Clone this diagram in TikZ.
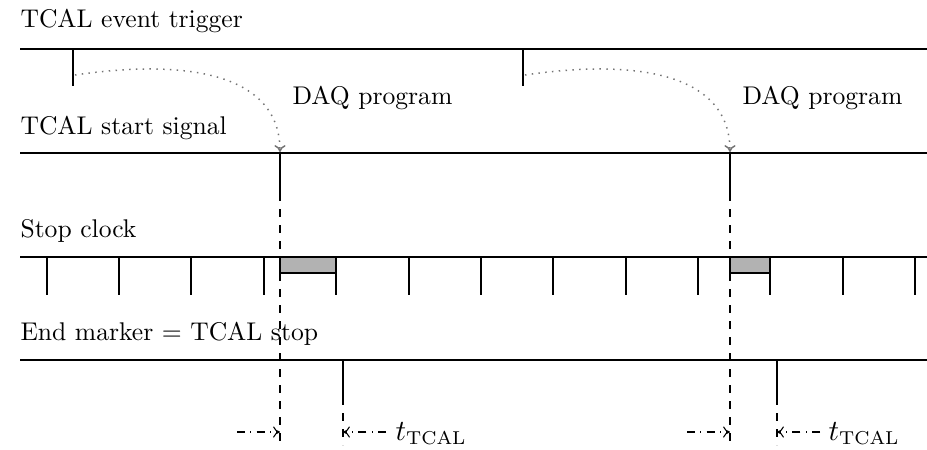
\documentclass[tikz,border=0pt]{standalone}
\usetikzlibrary{arrows.meta}
\begin{document}
\begin{tikzpicture}[x=0.375pt,y=-0.375pt,
  sigline/.style={line width=0.75pt},
  tick/.style={line width=0.75pt},
  guide/.style={dashed, line width=0.4pt},
  gate/.style={fill=black!30, draw=black, line width=0.4pt},
  flow/.style={dotted, draw=black!55, line width=0.55pt, -{To[length=2.6pt,width=4.2pt]}},
  meas/.style={dash dot, line width=0.4pt, -{To[length=2.6pt,width=4.2pt]}},
  lbl/.style={anchor=base west, inner sep=0pt, font=\fontsize{9.6}{11}\selectfont},
  tlbl/.style={anchor=base west, inner sep=0pt, font=\fontsize{10.5}{12}\selectfont}]
\useasboundingbox (0,0) rectangle (927,449);
% labels
\node[lbl] (l1) at (20,27) {TCAL event trigger};
\node[lbl] (l2) at (20,134) {TCAL start signal};
\node[lbl] (l3) at (20,237) {Stop clock};
\node[lbl] (l4) at (20,340) {End marker = TCAL stop};
\node[lbl] (d1) at (292,104) {DAQ program};
\node[lbl] (d2) at (742,104) {DAQ program};
% grey gates
\draw[gate] (280,257) rectangle (336,273);
\draw[gate] (730,257) rectangle (770,273);
% signal lines
\draw[sigline] (20,49) -- (927,49);
\draw[sigline] (20,153) -- (927,153);
\draw[sigline] (20,257) -- (927,257);
\draw[sigline] (20,360) -- (927,360);
% trigger ticks
\coordinate (tA) at (73,49); \coordinate (tAe) at (73,86);
\coordinate (tB) at (523,49); \coordinate (tBe) at (523,86);
\draw[tick] (tA) -- (tAe);
\draw[tick] (tB) -- (tBe);
% start ticks
\coordinate (sA) at (280,153); \coordinate (sAe) at (280,193);
\coordinate (sB) at (730,153); \coordinate (sBe) at (730,193);
\draw[tick] (sA) -- (sAe);
\draw[tick] (sB) -- (sBe);
% stop clock ticks
\foreach \x in {47,119,191,264,336,409,481,553,626,698,770,843,915}
  \draw[tick] (\x,257) -- (\x,295);
% end marker ticks
\coordinate (eA) at (343,360); \coordinate (eAe) at (343,397);
\coordinate (eB) at (777,360); \coordinate (eBe) at (777,397);
\draw[tick] (eA) -- (eAe);
\draw[tick] (eB) -- (eBe);
% dashed guides
\coordinate (gA) at (280,445); \coordinate (gB) at (730,445);
\coordinate (hA) at (343,445); \coordinate (hB) at (777,445);
\draw[guide] (sAe) -- (gA);
\draw[guide] (sBe) -- (gB);
\draw[guide] (eAe) -- (hA);
\draw[guide] (eBe) -- (hB);
% dotted DAQ flow
\draw[flow] (75,75) .. controls (190,58) and (280,75) .. (280,152);
\draw[flow] (525,75) .. controls (640,58) and (730,75) .. (730,152);
% measurement arrows
\coordinate (mA1) at (237,432); \coordinate (mA2) at (280,432);
\coordinate (mA3) at (386,432); \coordinate (mA4) at (343,432);
\coordinate (mB1) at (687,432); \coordinate (mB2) at (730,432);
\coordinate (mB3) at (820,432); \coordinate (mB4) at (777,432);
\draw[meas] (mA1) -- (mA2);
\draw[meas] (mA3) -- (mA4);
\draw[meas] (mB1) -- (mB2);
\draw[meas] (mB3) -- (mB4);
\node[tlbl] (t1) at (395,440) {$t_{\mathrm{TCAL}}$};
\node[tlbl] (t2) at (828,440) {$t_{\mathrm{TCAL}}$};
\end{tikzpicture}
\end{document}
